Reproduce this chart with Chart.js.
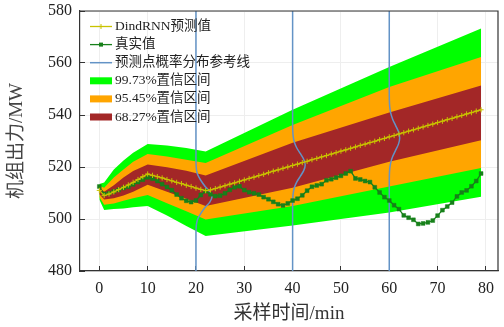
<!DOCTYPE html>
<html>
<head>
<meta charset="utf-8">
<script src="https://cdn.jsdelivr.net/npm/chart.js@4.4.1/dist/chart.umd.min.js"></script>
<style>
  html, body { margin: 0; padding: 0; background: #fff; }
  #myChart { display: block; }
</style>
</head>
<body>
<canvas id="myChart" width="504" height="327"></canvas>
<script>
// sample times (min)
const times = [0, 1, 2, 3, 4, 5, 6, 7, 8, 9, 10, 11, 12, 13, 14, 15, 16, 17, 18, 19,
  20, 21, 22, 23, 24, 25, 26, 27, 28, 29, 30, 31, 32, 33, 34, 35, 36, 37, 38, 39,
  40, 41, 42, 43, 44, 45, 46, 47, 48, 49, 50, 51, 52, 53, 54, 55, 56, 57, 58, 59,
  60, 61, 62, 63, 64, 65, 66, 67, 68, 69, 70, 71, 72, 73, 74, 75, 76, 77, 78, 79];

// DindRNN prediction (MW)
const predicted = [511.0, 509.0, 509.6, 510.4, 511.3, 512.2, 513.1, 514.1, 515.2, 516.3,
  517.3, 516.8, 516.3, 515.8, 515.2, 514.7, 514.1, 513.6, 513.0, 512.5,
  511.9, 511.4, 510.9, 511.2, 511.7, 512.3, 512.8, 513.4, 513.9, 514.5,
  515.0, 515.6, 516.1, 516.7, 517.2, 517.8, 518.4, 518.9, 519.5, 520.0,
  520.6, 521.1, 521.7, 522.2, 522.8, 523.3, 523.9, 524.4, 525.0, 525.5,
  526.1, 526.6, 527.2, 527.7, 528.3, 528.8, 529.4, 529.9, 530.5, 531.0,
  531.6, 532.1, 532.7, 533.2, 533.8, 534.3, 534.9, 535.4, 536.0, 536.5,
  537.1, 537.6, 538.2, 538.7, 539.3, 539.8, 540.4, 540.9, 541.5, 542.0];

// measured output (MW)
const actual = [512.5, 509.6, 509.9, 510.6, 511.2, 511.9, 512.4, 513.3, 514.2, 515.1,
  516.0, 515.5, 514.6, 513.4, 512.3, 511.1, 509.4, 508.0, 507.0, 506.5,
  507.1, 509.2, 510.7, 509.5, 508.8, 509.0, 509.9, 511.2, 512.2, 512.6,
  511.1, 510.3, 509.9, 509.4, 508.4, 507.6, 506.6, 505.7, 505.2, 506.0,
  507.1, 507.8, 509.1, 510.9, 512.4, 512.9, 513.4, 514.9, 515.3, 515.9,
  516.6, 517.5, 518.4, 515.6, 515.2, 514.6, 514.2, 512.2, 510.2, 508.4,
  507.1, 505.3, 503.8, 501.4, 500.5, 499.7, 498.1, 498.3, 498.7, 499.4,
  501.3, 503.4, 504.8, 506.3, 508.7, 510.2, 511.0, 512.6, 514.6, 517.5];

// confidence band edges, read at these times
const bandTimes = [0, 1, 3, 5, 7, 10, 14, 18, 22, 40, 60, 79];
const band9973Up = [513.5, 514.0, 519.0, 522.5, 525.5, 528.8, 528.3, 527.3, 526.0, 542.0, 558.5, 573.3];
const band9973Lo = [507.5, 503.5, 503.8, 504.0, 504.5, 505.0, 501.3, 497.3, 493.5, 497.5, 502.5, 508.6];
const band9545Up = [512.8, 512.0, 516.0, 519.0, 522.0, 525.0, 524.0, 522.8, 521.5, 536.2, 550.8, 562.3];
const band9545Lo = [508.5, 505.5, 506.0, 507.0, 508.0, 509.2, 506.1, 503.0, 499.8, 505.0, 512.5, 519.6];
const band6827Up = [512.0, 510.5, 513.0, 516.0, 518.5, 521.0, 519.9, 518.6, 516.7, 529.3, 541.0, 551.3];
const band6827Lo = [509.5, 507.5, 508.0, 509.0, 510.5, 513.2, 510.5, 507.8, 505.0, 512.0, 522.0, 530.3];

// probability-distribution reference lines at t = 20, 40, 60 (bulge)
const ref20Y = [480, 494, 496, 498, 500, 502, 504.5, 506.5, 508.5, 510.5, 512.5, 515, 517, 519, 521, 523, 580];
const ref20X = [20, 20, 20.02, 20.1, 20.36, 20.95, 21.9, 22.86, 23.3, 22.86, 21.9, 20.95, 20.36, 20.1, 20.02, 20, 20];
const ref40Y = [480, 505, 507.6, 509.8, 512, 514.2, 516.4, 518.6, 520.8, 523, 525.2, 527.4, 529.6, 531.8, 534, 536.6, 580];
const ref40X = [40, 40, 40.03, 40.11, 40.35, 40.84, 41.58, 42.29, 42.6, 42.29, 41.58, 40.84, 40.35, 40.11, 40.03, 40, 40];
const ref60Y = [480, 514, 516.8, 519.2, 521.6, 524, 526.4, 528.8, 531.2, 533.6, 536, 538.4, 540.8, 543.2, 545.6, 548.4, 580];
const ref60X = [60, 60, 60.02, 60.09, 60.29, 60.7, 61.3, 61.9, 62.15, 61.9, 61.3, 60.7, 60.29, 60.09, 60.02, 60, 60];

const legendLabels = ['DindRNN预测值', '真实值', '预测点概率分布参考线',
  '99.73%置信区间', '95.45%置信区间', '68.27%置信区间'];

const YELLOW = '#c9c300';
const DGREEN = '#17801a';
const BLUE = '#6393c6';
const GREEN = '#00ff00';
const ORANGE = '#ffa500';
const RED = '#a32727';
const FONT = "'Liberation Serif', 'Noto Sans CJK SC', serif";

const xy = (xs, ys) => xs.map((x, i) => ({x: x, y: ys[i]}));

function bandSet(ys, color, order, fill) {
  return {
    data: xy(bandTimes, ys),
    borderColor: 'rgba(0,0,0,0)',
    borderWidth: 0,
    backgroundColor: color,
    pointRadius: 0,
    fill: fill,
    order: order
  };
}

function refSet(xs, ys) {
  return {
    data: xy(xs, ys),
    borderColor: BLUE,
    borderWidth: 1.5,
    pointRadius: 0,
    tension: 0.25,
    fill: false,
    order: 3
  };
}

// top and right frame lines
const framePlugin = {
  id: 'frame',
  afterDatasetsDraw(chart) {
    const {ctx, chartArea: a} = chart;
    ctx.save();
    ctx.strokeStyle = '#333';
    ctx.lineWidth = 1.2;
    ctx.beginPath();
    ctx.moveTo(a.left, a.top);
    ctx.lineTo(a.right, a.top);
    ctx.lineTo(a.right, a.bottom);
    ctx.stroke();
    ctx.restore();
  }
};

// legend drawn inside the plot, top-left
const legendPlugin = {
  id: 'boxLegend',
  afterDraw(chart) {
    const ctx = chart.ctx;
    const x0 = 90, x1 = 112, tx = 115;
    ctx.save();
    ctx.font = '13.5px ' + FONT;
    ctx.textBaseline = 'middle';
    legendLabels.forEach((label, i) => {
      const y = 26.5 + i * 18.1;
      const mx = (x0 + x1) / 2;
      if (i < 3) {
        const c = [YELLOW, DGREEN, BLUE][i];
        ctx.strokeStyle = c;
        ctx.lineWidth = i === 2 ? 1.5 : 1.3;
        ctx.beginPath();
        ctx.moveTo(x0, y);
        ctx.lineTo(x1, y);
        ctx.stroke();
        if (i === 0) {
          ctx.lineWidth = 1;
          ctx.beginPath();
          ctx.moveTo(mx - 2.5, y); ctx.lineTo(mx + 2.5, y);
          ctx.moveTo(mx, y - 2.5); ctx.lineTo(mx, y + 2.5);
          ctx.stroke();
        } else if (i === 1) {
          ctx.fillStyle = c;
          ctx.fillRect(mx - 2, y - 2, 4, 4);
        }
      } else {
        ctx.fillStyle = [GREEN, ORANGE, RED][i - 3];
        ctx.fillRect(x0, y - 3.5, x1 - x0, 7);
      }
      ctx.fillStyle = '#222';
      ctx.fillText(label, tx, y);
    });
    ctx.restore();
  }
};

new Chart(document.getElementById('myChart'), {
  type: 'line',
  data: {
    datasets: [
      {
        data: xy(times, predicted),
        borderColor: YELLOW,
        borderWidth: 1.3,
        pointStyle: 'cross',
        pointRadius: 2.6,
        pointBorderColor: YELLOW,
        pointBorderWidth: 1,
        fill: false,
        order: 1
      },
      {
        data: xy(times, actual),
        borderColor: DGREEN,
        borderWidth: 1.3,
        pointStyle: 'rect',
        pointRadius: 2.7,
        pointBackgroundColor: DGREEN,
        pointBorderColor: DGREEN,
        pointBorderWidth: 0.5,
        fill: false,
        order: 2
      },
      refSet(ref20X, ref20Y),
      refSet(ref40X, ref40Y),
      refSet(ref60X, ref60Y),
      bandSet(band9973Up, GREEN, 6, '+1'),
      bandSet(band9973Lo, GREEN, 6, false),
      bandSet(band9545Up, ORANGE, 5, '+1'),
      bandSet(band9545Lo, ORANGE, 5, false),
      bandSet(band6827Up, RED, 4, '+1'),
      bandSet(band6827Lo, RED, 4, false)
    ]
  },
  options: {
    responsive: false,
    animation: false,
    devicePixelRatio: 1,
    layout: { padding: { left: 0, right: 6, top: 11, bottom: 0 } },
    plugins: {
      legend: { display: false },
      tooltip: { enabled: false }
    },
    scales: {
      x: {
        type: 'linear',
        min: -4,
        max: 82.5,
        afterFit(s) {
          s.height = 56;
          s.paddingLeft = 0;
          s.paddingRight = 0;
        },
        ticks: {
          stepSize: 10,
          includeBounds: false,
          padding: 13,
          color: '#222',
          font: { family: FONT, size: 16 }
        },
        grid: { color: '#eeeeee', tickColor: '#333', tickLength: -5 },
        border: { color: '#333', width: 1.2 },
        title: {
          display: true,
          text: '采样时间/min',
          color: '#333',
          font: { family: FONT, size: 19 },
          padding: { top: 0, bottom: 2 }
        }
      },
      y: {
        min: 480,
        max: 580,
        afterFit(s) {
          s.width = 80;
          s.paddingTop = 0;
          s.paddingBottom = 0;
        },
        ticks: {
          stepSize: 20,
          padding: 13,
          color: '#222',
          font: { family: FONT, size: 16 }
        },
        grid: { color: '#eeeeee', tickColor: '#333', tickLength: -5 },
        border: { color: '#333', width: 1.2 },
        title: {
          display: true,
          text: '机组出力/MW',
          color: '#444',
          font: { family: FONT, size: 19 },
          padding: { top: 6, bottom: 0 }
        }
      }
    }
  },
  plugins: [framePlugin, legendPlugin]
});
</script>
</body>
</html>
